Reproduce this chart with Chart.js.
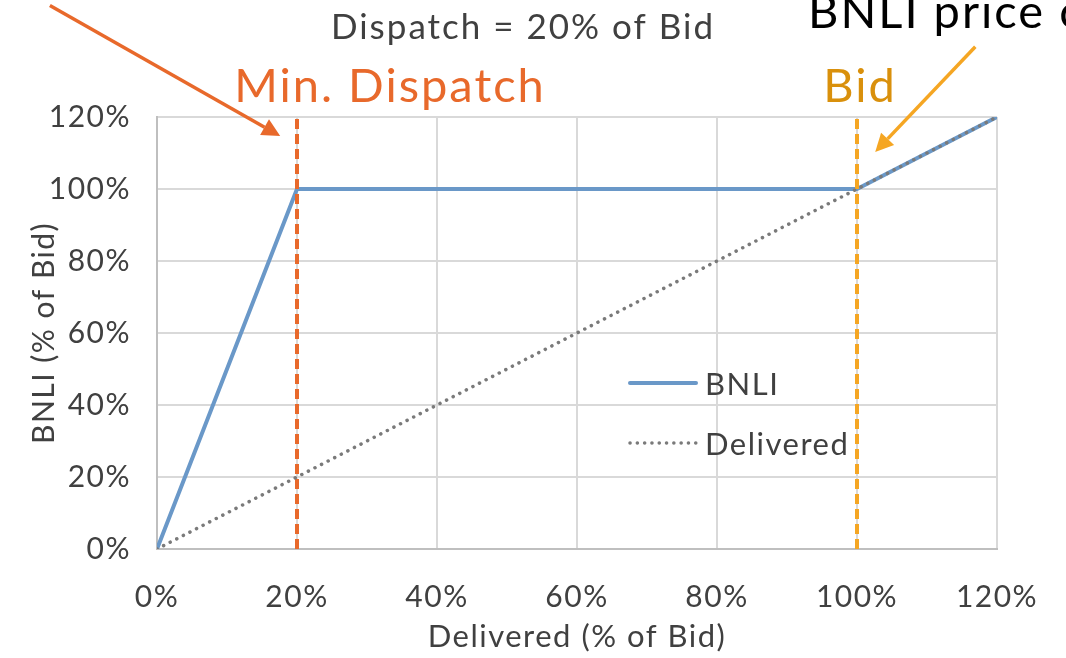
<!DOCTYPE html>
<html>
<head>
<meta charset="utf-8">
<script src="https://cdn.jsdelivr.net/npm/chart.js@4.4.1/dist/chart.umd.min.js"></script>
<style>
  html, body { margin: 0; padding: 0; background: #fff; }
  #wrap { width: 1066px; height: 658px; }
</style>
</head>
<body>
<div id="wrap"><canvas id="chart" width="1066" height="658"></canvas></div>
<script>
// values, in % of bid
const bnliX = [0, 20, 100, 120];
const bnliY = [0, 100, 100, 120];
const deliveredX = [0, 120];
const deliveredY = [0, 120];
const minDispatchX = 20;
const bidX = 100;
const axisTicks = [0, 20, 40, 60, 80, 100, 120];

const FONT = "Lato, 'DejaVu Sans', sans-serif";
const TEXT = "#404040";
const ORANGE = "#E8692B";
const GOLD = "#F5A623";

const pts = (xs, ys) => xs.map((x, i) => ({ x: x, y: ys[i] }));

// wider letters, closer to the original typeface
const spacing = {
  id: "spacing",
  beforeDraw(chart) {
    chart.ctx.letterSpacing = "1.5px";
  }
};

// arrows, text etc drawn on top
const notes = {
  id: "notes",
  afterDraw(chart) {
    const ctx = chart.ctx;
    const sx = chart.scales.x, sy = chart.scales.y;
    const px = (v) => sx.getPixelForValue(v);
    const py = (v) => sy.getPixelForValue(v);

    ctx.save();
    ctx.textBaseline = "alphabetic";
    ctx.textAlign = "center";
    ctx.fillStyle = TEXT;
    ctx.letterSpacing = "2px";
    ctx.font = "35px " + FONT;
    ctx.fillText("Dispatch = 20% of Bid", 523, 39);

    ctx.font = "47px " + FONT;
    ctx.fillStyle = ORANGE;
    ctx.fillText("Min. Dispatch", 390, 102);
    ctx.fillStyle = "#D9900C";
    ctx.fillText("Bid", 860, 102);
    ctx.fillStyle = "#000";
    ctx.textAlign = "left";
    ctx.fillText("BNLI price cap", 808, 28);

    const arrow = (x0, y0, x1, y1, color) => {
      const ax = px(x0), ay = py(y0), bx = px(x1), by = py(y1);
      const ang = Math.atan2(by - ay, bx - ax);
      const head = 18, hw = 9;
      ctx.strokeStyle = color;
      ctx.fillStyle = color;
      ctx.lineWidth = 3.5;
      ctx.beginPath();
      ctx.moveTo(ax, ay);
      ctx.lineTo(bx - Math.cos(ang) * head, by - Math.sin(ang) * head);
      ctx.stroke();
      ctx.beginPath();
      ctx.moveTo(bx, by);
      ctx.lineTo(bx - Math.cos(ang) * head - Math.sin(ang) * hw, by - Math.sin(ang) * head + Math.cos(ang) * hw);
      ctx.lineTo(bx - Math.cos(ang) * head + Math.sin(ang) * hw, by - Math.sin(ang) * head - Math.cos(ang) * hw);
      ctx.closePath();
      ctx.fill();
    };
    arrow(-15.3, 151, 17.6, 114.7, ORANGE);
    arrow(116.9, 139.5, 102.6, 110.3, GOLD);

    // legend inside the plot
    ctx.lineWidth = 4;
    ctx.strokeStyle = "#6A98C8";
    ctx.lineCap = "round";
    ctx.beginPath();
    ctx.moveTo(630, 383);
    ctx.lineTo(696, 383);
    ctx.stroke();
    ctx.lineWidth = 3.5;
    ctx.strokeStyle = "#7a7a7a";
    ctx.setLineDash([0.1, 7.2]);
    ctx.beginPath();
    ctx.moveTo(630, 443);
    ctx.lineTo(696, 443);
    ctx.stroke();
    ctx.setLineDash([]);
    ctx.fillStyle = TEXT;
    ctx.letterSpacing = "1.5px";
    ctx.font = "31px " + FONT;
    ctx.fillText("BNLI", 705, 395);
    ctx.fillText("Delivered", 705, 455);
    ctx.restore();
  }
};

new Chart(document.getElementById("chart"), {
  type: "scatter",
  data: {
    datasets: [
      {
        label: "Min. Dispatch",
        data: pts([minDispatchX, minDispatchX], [0, 120]),
        showLine: true,
        borderColor: ORANGE,
        borderWidth: 4,
        borderDash: [10, 5],
        pointRadius: 0,
        order: 1,
      },
      {
        label: "Bid",
        data: pts([bidX, bidX], [0, 120]),
        showLine: true,
        borderColor: GOLD,
        borderWidth: 4,
        borderDash: [10, 5],
        pointRadius: 0,
        order: 2,
      },
      {
        label: "BNLI",
        data: pts(bnliX, bnliY),
        showLine: true,
        borderColor: "#6A98C8",
        borderWidth: 4,
        pointRadius: 0,
        order: 3,
      },
      {
        label: "Delivered",
        data: pts(deliveredX, deliveredY),
        showLine: true,
        borderColor: "#7a7a7a",
        borderWidth: 3.5,
        borderDash: [0.1, 7.3],
        borderCapStyle: "round",
        pointRadius: 0,
        order: 0,
      },
    ],
  },
  options: {
    responsive: false,
    animation: false,
    layout: { padding: { top: 117, right: 69, left: 22, bottom: 0 } },
    plugins: {
      legend: { display: false },
      tooltip: { enabled: false },
    },
    scales: {
      x: {
        type: "linear",
        min: 0,
        max: 120,
        afterFit: (s) => { s.height = 109; },
        afterBuildTicks: (s) => { s.ticks = axisTicks.map((v) => ({ value: v })); },
        grid: { color: "#d9d9d9", lineWidth: 2, drawTicks: false },
        border: { color: "#bfbfbf", width: 2 },
        ticks: {
          color: TEXT,
          font: { family: FONT, size: 30 },
          padding: 30,
          callback: (v) => v + "%",
        },
        title: {
          display: true,
          text: "Delivered (% of Bid)",
          color: TEXT,
          font: { family: FONT, size: 31 },
          padding: { top: 4, bottom: 2 },
        },
      },
      y: {
        type: "linear",
        min: 0,
        max: 120,
        afterFit: (s) => { s.width = 135; },
        afterBuildTicks: (s) => { s.ticks = axisTicks.map((v) => ({ value: v })); },
        grid: { color: "#d9d9d9", lineWidth: 2, drawTicks: false },
        border: { color: "#bfbfbf", width: 2 },
        ticks: {
          color: TEXT,
          font: { family: FONT, size: 30 },
          padding: 26,
          callback: (v) => v + "%",
        },
        title: {
          display: true,
          text: "BNLI (% of Bid)",
          color: TEXT,
          font: { family: FONT, size: 30 },
          padding: { bottom: 0 },
        },
      },
    },
  },
  plugins: [spacing, notes],
});
</script>
</body>
</html>
